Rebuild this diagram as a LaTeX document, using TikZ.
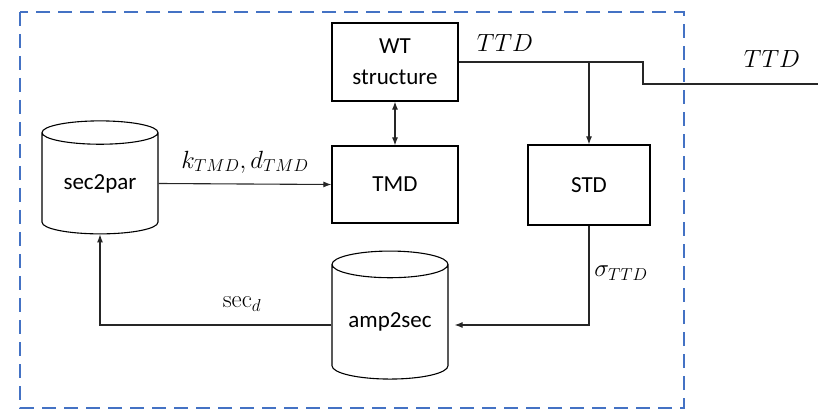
\documentclass[tikz,border=0pt]{standalone}
\usepackage[no-math]{fontspec}
\setmainfont{Carlito}
\usetikzlibrary{shapes.geometric,arrows.meta}
\definecolor{frameblue}{HTML}{4472C4}
\definecolor{wire}{HTML}{262626}
\begin{document}
\begin{tikzpicture}[x=1pt,y=-1pt,
  every node/.style={font=\fontsize{23}{26}\selectfont},
  box/.style={draw=black,line width=1.2pt,rectangle,align=center,inner sep=0pt},
  db/.style={draw=black,line width=1.1pt,cylinder,shape border rotate=90,aspect=0.32,
    inner sep=0pt,align=center},
  wireline/.style={draw=wire,line width=1.1pt},
  tip/.tip={Latex[length=8pt,width=6pt]},
  arr/.style={wireline,-tip},
  lbl/.style={font=\fontsize{23}{26}\selectfont}]
\useasboundingbox (0,0) rectangle (818,411);

% dashed boundary of the subsystem
\draw[frameblue,line width=2.6pt,dash pattern=on 14pt off 8pt] (20,12) rectangle (684,408);

% blocks
\node[box,minimum width=126pt,minimum height=78pt] (wt) at (395,62) {WT\\[5pt]structure};
\node[box,minimum width=126pt,minimum height=77pt] (tmd) at (395,184.5) {TMD};
\node[box,minimum width=122pt,minimum height=80pt] (std) at (589,185) {STD};

% look-up tables (text sits in the body, below the top ellipse)
\node[db,minimum width=116pt,minimum height=113pt] (s2p) at (100,183.5) {\raisebox{-11pt}{sec2par}};
\node[db,minimum width=116pt,minimum height=128pt] (a2s) at (390,322) {\raisebox{-9pt}{amp2sec}};

% tower top displacement leaving the subsystem
\coordinate (out) at (818,84);
\coordinate (step1) at (643,62);
\draw[wireline] (wt.east) -- (step1) |- (out);

% connectors
\draw[arr] (std.north |- wt.east) -- (std.north);
\draw[wireline,tip-tip] (wt.south) -- (tmd.north);
\draw[arr] (s2p.east) -- (tmd.west);
\draw[arr,shorten >=6pt] (std.south) |- ([yshift=-3pt]a2s.east);
\draw[arr] ([yshift=-3pt]a2s.west) -| (s2p.south);

% signal labels
\node[lbl] (l1) at (505,43) {$TTD$};
\node[lbl] (l2) at (772,59) {$TTD$};
\node[lbl] (l3) at (245,162) {$k_{TMD},d_{TMD}$};
\node[lbl] (l4) at (242,304) {$\mathrm{sec}_d$};
\node[lbl] (l5) at (621,273) {$\sigma_{TTD}$};
\end{tikzpicture}
\end{document}
